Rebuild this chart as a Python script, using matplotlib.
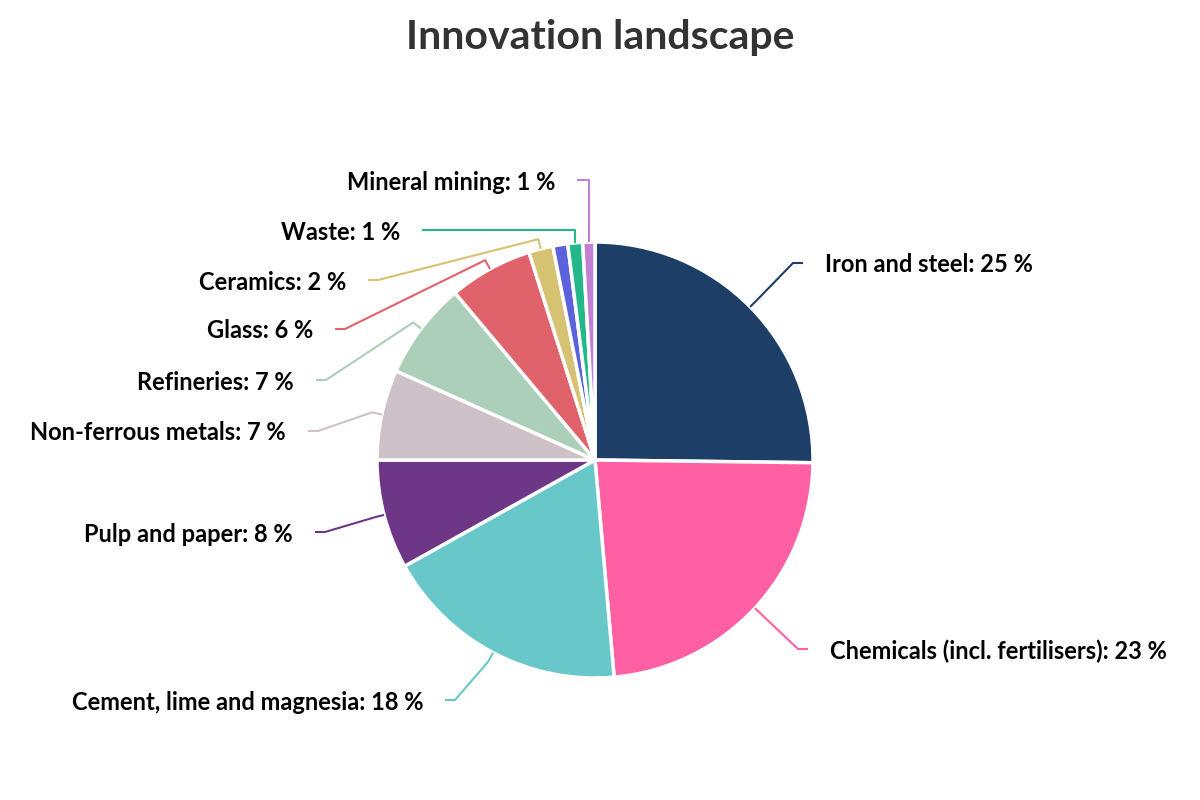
import matplotlib.pyplot as plt
import numpy as np

plt.rcParams['font.family'] = ['Lato', 'DejaVu Sans']

sectors = ['Iron and steel', 'Chemicals (incl. fertilisers)', 'Cement, lime and magnesia',
           'Pulp and paper', 'Non-ferrous metals', 'Refineries', 'Glass', 'Ceramics',
           'Other', 'Waste', 'Mineral mining']
shares = [25.2, 23.4, 18.3, 8.1, 6.7, 7.2, 6.2, 1.8, 1.1, 1.1, 0.9]
show_label = [True, True, True, True, True, True, True, True, False, True, True]
colors = ['#1d3f67', '#ff60a3', '#68c8c9', '#6e3687', '#cec1c8', '#abcfb8',
          '#e0626a', '#d6c273', '#5b62db', '#22b88a', '#c27fd6']

# label layout in pixels (x = text edge nearest the pie, y from the top)
label_x = [825, 830, 423, 293, 286, 294, 313, 346, 0, 400, 555]
label_y = [263, 649, 700, 532, 431, 380, 329, 280, 0, 230, 180]

W, H = 1200, 800
cx, cy, r = 595, H - 460, 218

fig = plt.figure(figsize=(12, 8), dpi=100)
ax = fig.add_axes([0, 0, 1, 1])
wedges, _ = ax.pie(shares, colors=colors, startangle=90, counterclock=False,
                   center=(cx, cy), radius=r,
                   wedgeprops=dict(edgecolor='white', linewidth=2.5, joinstyle='round'))
ax.set_xlim(0, W)
ax.set_ylim(0, H)
ax.set_aspect('equal')
ax.axis('off')

for w, name, val, show, lx, ly, col in zip(wedges, sectors, shares, show_label,
                                           label_x, label_y, colors):
    if not show:
        continue
    mid = np.deg2rad((w.theta1 + w.theta2) / 2)
    ax_, ay_ = cx + r * np.cos(mid), cy + r * np.sin(mid)
    ly = H - ly
    right = ax_ > cx
    sgn = 1 if right else -1
    end_x = lx - sgn * 22
    if abs(ax_ - cx) < 30:
        xs = [ax_, ax_, end_x]
        ys = [ay_, ly, ly]
    else:
        sx, sy = ax_ + 10 * np.cos(mid), ay_ + 10 * np.sin(mid)
        xs = [ax_, sx, end_x - sgn * 10, end_x]
        ys = [ay_, sy, ly, ly]
    ax.plot(xs, ys, color=col, lw=1.5, solid_capstyle='butt')
    ax.text(lx, ly, f'{name}: {round(val):.0f} %', ha='left' if right else 'right',
            va='center_baseline', fontsize=17, fontweight='bold', color='black')

fig.text(0.5, 1 - 37 / H, 'Innovation landscape', ha='center', va='center',
         fontsize=29.5, fontweight='bold', color='#333333')

fig.savefig('out.png', dpi=100, facecolor='white')
